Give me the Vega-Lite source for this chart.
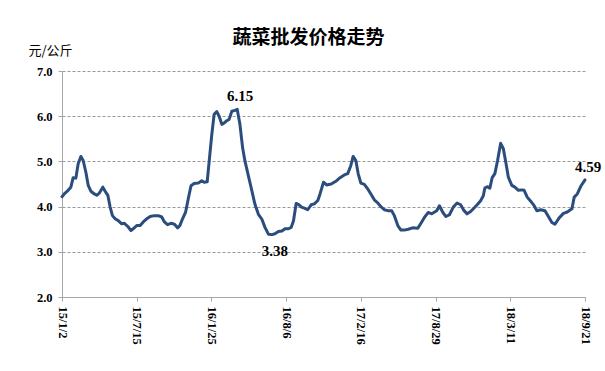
{
  "$schema": "https://vega.github.io/schema/vega-lite/v6.json",
  "width": 523,
  "height": 226,
  "autosize": {"type": "none"},
  "padding": {"left": 62, "top": 71, "right": 20, "bottom": 74},
  "background": "white",
  "title": {
    "text": "蔬菜批发价格走势",
    "font": "Noto Sans CJK SC",
    "fontSize": 19,
    "fontWeight": "bold",
    "color": "#000000",
    "anchor": "middle",
    "dx": -15,
    "dy": 32,
    "offset": 28
  },
  "datasets": {
    "prices": [
      {"date": "2015-01-02", "price": 4.22},
      {"date": "2015-01-10", "price": 4.30},
      {"date": "2015-01-18", "price": 4.36},
      {"date": "2015-01-25", "price": 4.43},
      {"date": "2015-01-31", "price": 4.64},
      {"date": "2015-02-07", "price": 4.63},
      {"date": "2015-02-13", "price": 4.95},
      {"date": "2015-02-20", "price": 5.11},
      {"date": "2015-02-26", "price": 5.02},
      {"date": "2015-03-05", "price": 4.76},
      {"date": "2015-03-11", "price": 4.47},
      {"date": "2015-03-18", "price": 4.34},
      {"date": "2015-03-27", "price": 4.28},
      {"date": "2015-04-03", "price": 4.25},
      {"date": "2015-04-09", "price": 4.30},
      {"date": "2015-04-18", "price": 4.43},
      {"date": "2015-04-24", "price": 4.34},
      {"date": "2015-05-01", "price": 4.25},
      {"date": "2015-05-07", "price": 3.99},
      {"date": "2015-05-13", "price": 3.80},
      {"date": "2015-05-20", "price": 3.73},
      {"date": "2015-05-28", "price": 3.69},
      {"date": "2015-06-06", "price": 3.62},
      {"date": "2015-06-13", "price": 3.63},
      {"date": "2015-06-22", "price": 3.56},
      {"date": "2015-06-30", "price": 3.47},
      {"date": "2015-07-06", "price": 3.51},
      {"date": "2015-07-15", "price": 3.58},
      {"date": "2015-07-24", "price": 3.58},
      {"date": "2015-08-01", "price": 3.66},
      {"date": "2015-08-10", "price": 3.73},
      {"date": "2015-08-19", "price": 3.78},
      {"date": "2015-08-30", "price": 3.80},
      {"date": "2015-09-09", "price": 3.80},
      {"date": "2015-09-18", "price": 3.77},
      {"date": "2015-09-25", "price": 3.66},
      {"date": "2015-10-03", "price": 3.60},
      {"date": "2015-10-12", "price": 3.63},
      {"date": "2015-10-21", "price": 3.61},
      {"date": "2015-10-29", "price": 3.53},
      {"date": "2015-11-04", "price": 3.58},
      {"date": "2015-11-11", "price": 3.73},
      {"date": "2015-11-19", "price": 3.88},
      {"date": "2015-11-26", "price": 4.18},
      {"date": "2015-12-03", "price": 4.46},
      {"date": "2015-12-11", "price": 4.51},
      {"date": "2015-12-22", "price": 4.52},
      {"date": "2015-12-31", "price": 4.57},
      {"date": "2016-01-06", "price": 4.54},
      {"date": "2016-01-14", "price": 4.55},
      {"date": "2016-01-20", "price": 5.08},
      {"date": "2016-01-26", "price": 5.60},
      {"date": "2016-02-01", "price": 6.04},
      {"date": "2016-02-08", "price": 6.10},
      {"date": "2016-02-14", "price": 6.00},
      {"date": "2016-02-21", "price": 5.82},
      {"date": "2016-02-27", "price": 5.85},
      {"date": "2016-03-05", "price": 5.90},
      {"date": "2016-03-11", "price": 5.93},
      {"date": "2016-03-18", "price": 6.11},
      {"date": "2016-03-26", "price": 6.13},
      {"date": "2016-04-01", "price": 6.15},
      {"date": "2016-04-08", "price": 5.82},
      {"date": "2016-04-15", "price": 5.30},
      {"date": "2016-04-21", "price": 5.01},
      {"date": "2016-04-30", "price": 4.68},
      {"date": "2016-05-09", "price": 4.35},
      {"date": "2016-05-17", "price": 4.05},
      {"date": "2016-05-26", "price": 3.83},
      {"date": "2016-06-04", "price": 3.72},
      {"date": "2016-06-12", "price": 3.54},
      {"date": "2016-06-21", "price": 3.39},
      {"date": "2016-06-30", "price": 3.38},
      {"date": "2016-07-08", "price": 3.40},
      {"date": "2016-07-17", "price": 3.45},
      {"date": "2016-07-26", "price": 3.46},
      {"date": "2016-08-03", "price": 3.51},
      {"date": "2016-08-12", "price": 3.51},
      {"date": "2016-08-19", "price": 3.54},
      {"date": "2016-08-25", "price": 3.68},
      {"date": "2016-09-01", "price": 4.07},
      {"date": "2016-09-07", "price": 4.05},
      {"date": "2016-09-15", "price": 3.99},
      {"date": "2016-09-24", "price": 3.96},
      {"date": "2016-10-01", "price": 3.93},
      {"date": "2016-10-10", "price": 4.04},
      {"date": "2016-10-18", "price": 4.06},
      {"date": "2016-10-27", "price": 4.13},
      {"date": "2016-11-02", "price": 4.28},
      {"date": "2016-11-11", "price": 4.54},
      {"date": "2016-11-19", "price": 4.48},
      {"date": "2016-12-01", "price": 4.50},
      {"date": "2016-12-13", "price": 4.56},
      {"date": "2016-12-24", "price": 4.64},
      {"date": "2017-01-04", "price": 4.70},
      {"date": "2017-01-13", "price": 4.73},
      {"date": "2017-01-21", "price": 4.91},
      {"date": "2017-01-27", "price": 5.11},
      {"date": "2017-02-03", "price": 5.02},
      {"date": "2017-02-09", "price": 4.73},
      {"date": "2017-02-16", "price": 4.52},
      {"date": "2017-02-25", "price": 4.49},
      {"date": "2017-03-06", "price": 4.39},
      {"date": "2017-03-14", "price": 4.28},
      {"date": "2017-03-23", "price": 4.15},
      {"date": "2017-04-01", "price": 4.08},
      {"date": "2017-04-09", "price": 4.00},
      {"date": "2017-04-18", "price": 3.93},
      {"date": "2017-04-27", "price": 3.91},
      {"date": "2017-05-07", "price": 3.91},
      {"date": "2017-05-14", "price": 3.80},
      {"date": "2017-05-23", "price": 3.58},
      {"date": "2017-05-31", "price": 3.48},
      {"date": "2017-06-09", "price": 3.48},
      {"date": "2017-06-19", "price": 3.50},
      {"date": "2017-06-30", "price": 3.53},
      {"date": "2017-07-14", "price": 3.52},
      {"date": "2017-07-22", "price": 3.63},
      {"date": "2017-07-31", "price": 3.76},
      {"date": "2017-08-10", "price": 3.87},
      {"date": "2017-08-19", "price": 3.84},
      {"date": "2017-09-01", "price": 3.91},
      {"date": "2017-09-08", "price": 4.02},
      {"date": "2017-09-17", "price": 3.87},
      {"date": "2017-09-25", "price": 3.78},
      {"date": "2017-10-04", "price": 3.82},
      {"date": "2017-10-14", "price": 3.99},
      {"date": "2017-10-24", "price": 4.08},
      {"date": "2017-11-02", "price": 4.04},
      {"date": "2017-11-11", "price": 3.91},
      {"date": "2017-11-19", "price": 3.84},
      {"date": "2017-11-28", "price": 3.89},
      {"date": "2017-12-07", "price": 3.97},
      {"date": "2017-12-15", "price": 4.04},
      {"date": "2017-12-24", "price": 4.13},
      {"date": "2017-12-31", "price": 4.24},
      {"date": "2018-01-04", "price": 4.41},
      {"date": "2018-01-10", "price": 4.44},
      {"date": "2018-01-17", "price": 4.41},
      {"date": "2018-01-23", "price": 4.64},
      {"date": "2018-01-30", "price": 4.73},
      {"date": "2018-02-06", "price": 5.02},
      {"date": "2018-02-14", "price": 5.40},
      {"date": "2018-02-21", "price": 5.28},
      {"date": "2018-02-28", "price": 4.95},
      {"date": "2018-03-06", "price": 4.65},
      {"date": "2018-03-15", "price": 4.47},
      {"date": "2018-03-23", "price": 4.43},
      {"date": "2018-04-01", "price": 4.36},
      {"date": "2018-04-10", "price": 4.37},
      {"date": "2018-04-16", "price": 4.36},
      {"date": "2018-04-24", "price": 4.21},
      {"date": "2018-05-03", "price": 4.12},
      {"date": "2018-05-12", "price": 4.02},
      {"date": "2018-05-19", "price": 3.91},
      {"date": "2018-05-29", "price": 3.93},
      {"date": "2018-06-09", "price": 3.91},
      {"date": "2018-06-18", "price": 3.78},
      {"date": "2018-06-27", "price": 3.65},
      {"date": "2018-07-05", "price": 3.61},
      {"date": "2018-07-16", "price": 3.75},
      {"date": "2018-07-27", "price": 3.85},
      {"date": "2018-08-06", "price": 3.88},
      {"date": "2018-08-18", "price": 3.95},
      {"date": "2018-08-24", "price": 4.21},
      {"date": "2018-09-01", "price": 4.28},
      {"date": "2018-09-10", "price": 4.45},
      {"date": "2018-09-21", "price": 4.59}
    ],
    "labels": [
      {"date": "2016-04-01", "price": 6.15, "label": "6.15", "side": "above"},
      {"date": "2016-06-30", "price": 3.38, "label": "3.38", "side": "below"},
      {"date": "2018-09-21", "price": 4.59, "label": "4.59", "side": "above"}
    ]
  },
  "layer": [
    {
      "data": {"name": "prices"},
      "mark": {"type": "line", "color": "#2B4D7E", "strokeWidth": 3, "strokeJoin": "round", "strokeCap": "round"},
      "encoding": {
        "x": {
          "field": "date",
          "type": "temporal",
          "scale": {"type": "utc", "domain": [{"year": 2015, "month": 1, "date": 2, "utc": true}, {"year": 2018, "month": 9, "date": 21, "utc": true}], "nice": false},
          "axis": {
            "values": [
              {"year": 2015, "month": 1, "date": 2, "utc": true},
              {"year": 2015, "month": 7, "date": 15, "utc": true},
              {"year": 2016, "month": 1, "date": 25, "utc": true},
              {"year": 2016, "month": 8, "date": 6, "utc": true},
              {"year": 2017, "month": 2, "date": 16, "utc": true},
              {"year": 2017, "month": 8, "date": 29, "utc": true},
              {"year": 2018, "month": 3, "date": 11, "utc": true},
              {"year": 2018, "month": 9, "date": 21, "utc": true}
            ],
            "format": "%y/%-m/%-d",
            "title": null,
            "grid": false,
            "labelAngle": 90,
            "labelAlign": "left",
            "labelBaseline": "middle",
            "labelFont": "Liberation Serif",
            "labelFontSize": 12.5,
            "labelFontWeight": "bold",
            "labelColor": "#000000",
            "labelPadding": 5,
            "labelOverlap": false,
            "labelFlush": false,
            "domainColor": "#A6A6A6",
            "tickColor": "#A6A6A6",
            "tickSize": 4
          }
        },
        "y": {
          "field": "price",
          "type": "quantitative",
          "scale": {"domain": [2, 7], "nice": false, "zero": false},
          "axis": {
            "values": [2, 3, 4, 5, 6, 7],
            "format": ".1f",
            "title": "元/公斤",
            "titleAngle": 0,
            "titleAlign": "left",
            "titleBaseline": "alphabetic",
            "titleX": -34,
            "titleY": -17,
            "titleFont": "Noto Sans CJK SC",
            "titleFontSize": 13,
            "titleFontWeight": "normal",
            "titleColor": "#000000",
            "labelFont": "Liberation Serif",
            "labelFontSize": 12.5,
            "labelFontWeight": "bold",
            "labelColor": "#000000",
            "labelPadding": 6,
            "domainColor": "#A6A6A6",
            "tickColor": "#A6A6A6",
            "tickSize": 4,
            "grid": true,
            "gridColor": "#7F7F7F",
            "gridDash": [3, 2],
            "gridWidth": 0.8
          }
        }
      }
    },
    {
      "data": {"name": "labels"},
      "transform": [{"filter": "datum.side === 'above'"}],
      "mark": {"type": "text", "font": "Liberation Serif", "fontSize": 15, "fontWeight": "bold", "color": "#000000", "dy": -13, "dx": 3, "align": "center"},
      "encoding": {
        "x": {"field": "date", "type": "temporal"},
        "y": {"field": "price", "type": "quantitative"},
        "text": {"field": "label"}
      }
    },
    {
      "data": {"name": "labels"},
      "transform": [{"filter": "datum.side === 'below'"}],
      "mark": {"type": "text", "font": "Liberation Serif", "fontSize": 15, "fontWeight": "bold", "color": "#000000", "dy": 16, "dx": 3, "align": "center"},
      "encoding": {
        "x": {"field": "date", "type": "temporal"},
        "y": {"field": "price", "type": "quantitative"},
        "text": {"field": "label"}
      }
    }
  ],
  "config": {
    "view": {"stroke": null}
  }
}
